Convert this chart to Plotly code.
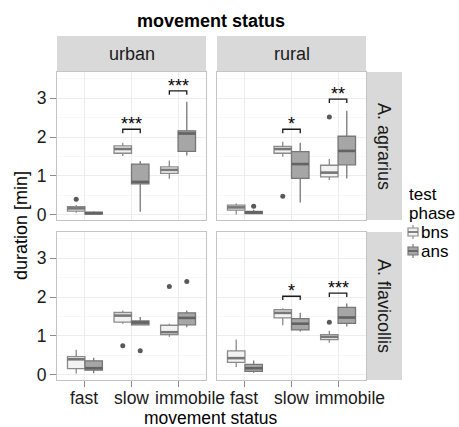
import plotly.graph_objects as go

# ---------------- data ----------------
categories = ["fast", "slow", "immobile"]
locations = ["urban", "rural"]
species = ["A. agrarius", "A. flavicollis"]
phases = ["bns", "ans"]

# per category: [lower whisker, q1, median, q3, upper whisker]
agr_urban_bns = [[0.04, 0.085, 0.155, 0.20, 0.24], [1.51, 1.58, 1.69, 1.77, 1.85], [0.92, 1.06, 1.15, 1.23, 1.39]]
agr_urban_ans = [[0.00, 0.01, 0.03, 0.06, 0.08], [0.07, 0.79, 0.84, 1.30, 1.38], [1.52, 1.63, 2.09, 2.16, 2.91]]
agr_rural_bns = [[0.00, 0.11, 0.18, 0.24, 0.28], [1.49, 1.58, 1.69, 1.76, 1.88], [0.89, 0.97, 1.08, 1.27, 1.43]]
agr_rural_ans = [[0.01, 0.02, 0.05, 0.08, 0.12], [0.31, 0.93, 1.30, 1.62, 1.85], [0.93, 1.28, 1.64, 2.02, 2.68]]
fla_urban_bns = [[0.02, 0.15, 0.39, 0.46, 0.64], [1.31, 1.35, 1.52, 1.60, 1.65], [0.97, 1.03, 1.09, 1.27, 1.31]]
fla_urban_ans = [[0.03, 0.11, 0.16, 0.35, 0.43], [1.28, 1.28, 1.34, 1.38, 1.48], [1.22, 1.28, 1.46, 1.59, 1.65]]
fla_rural_bns = [[0.19, 0.31, 0.42, 0.61, 0.90], [1.27, 1.46, 1.59, 1.67, 1.71], [0.82, 0.90, 0.97, 1.03, 1.13]]
fla_rural_ans = [[0.04, 0.08, 0.16, 0.26, 0.36], [1.11, 1.15, 1.31, 1.44, 1.59], [1.24, 1.32, 1.47, 1.73, 1.83]]

stats = {
    ("A. agrarius", "urban", "bns"): agr_urban_bns,
    ("A. agrarius", "urban", "ans"): agr_urban_ans,
    ("A. agrarius", "rural", "bns"): agr_rural_bns,
    ("A. agrarius", "rural", "ans"): agr_rural_ans,
    ("A. flavicollis", "urban", "bns"): fla_urban_bns,
    ("A. flavicollis", "urban", "ans"): fla_urban_ans,
    ("A. flavicollis", "rural", "bns"): fla_rural_bns,
    ("A. flavicollis", "rural", "ans"): fla_rural_ans,
}

outliers = [
    ("A. agrarius", "urban", "bns", "fast", 0.39),
    ("A. agrarius", "rural", "ans", "fast", 0.21),
    ("A. agrarius", "rural", "bns", "slow", 0.47),
    ("A. agrarius", "rural", "bns", "immobile", 2.52),
    ("A. flavicollis", "urban", "bns", "slow", 0.74),
    ("A. flavicollis", "urban", "ans", "slow", 0.61),
    ("A. flavicollis", "urban", "bns", "immobile", 2.27),
    ("A. flavicollis", "urban", "ans", "immobile", 2.40),
    ("A. flavicollis", "rural", "bns", "immobile", 1.35),
]

significance = [
    ("A. agrarius", "urban", "slow", 2.20, "***"),
    ("A. agrarius", "urban", "immobile", 3.19, "***"),
    ("A. agrarius", "rural", "slow", 2.20, "*"),
    ("A. agrarius", "rural", "immobile", 2.98, "**"),
    ("A. flavicollis", "rural", "slow", 2.02, "*"),
    ("A. flavicollis", "rural", "immobile", 2.10, "***"),
]

y_ticks = [0, 1, 2, 3]

# ---------------- styling ----------------
W, H = 459, 427
FONT = "Liberation Sans, Arial, Helvetica, sans-serif"
fills = {"bns": "#F2F2F2", "ans": "#A6A6A6"}
lines = {"bns": "#8A8A8A", "ans": "#777777"}
medians = {"bns": "#777777", "ans": "#636363"}
DODGE = 0.1875
BOXW = 0.375
tick_label_shift = {"fast": -1, "slow": 0, "immobile": 12}

col_px = [(57, 206), (217, 366)]
row_px = [(72, 220), (232, 380)]


def fx(px):
    return px / W


def fy(py):
    return 1 - py / H


fig = go.Figure()
layout_axes = {}
annotations = []

for r, sp in enumerate(species):
    for c, loc in enumerate(locations):
        n = r * 2 + c + 1
        xa = "x" if n == 1 else f"x{n}"
        ya = "y" if n == 1 else f"y{n}"
        for ph in phases:
            off = -DODGE if ph == "bns" else DODGE
            data = stats[(sp, loc, ph)]
            pos = [i + 1 + off for i in range(len(categories))]
            fig.add_trace(go.Box(
                x=pos,
                lowerfence=[d[0] for d in data],
                q1=[d[1] for d in data],
                median=[d[2] for d in data],
                q3=[d[3] for d in data],
                upperfence=[d[4] for d in data],
                width=BOXW, whiskerwidth=0,
                fillcolor=fills[ph],
                line=dict(color=lines[ph], width=1.3),
                boxpoints=False, showlegend=False, hoverinfo="skip",
                xaxis=xa, yaxis=ya,
            ))
            # thicker median line
            mx, my = [], []
            for p, d in zip(pos, data):
                mx += [p - BOXW / 2, p + BOXW / 2, None]
                my += [d[2], d[2], None]
            fig.add_trace(go.Scatter(
                x=mx, y=my, mode="lines",
                line=dict(color=medians[ph], width=2.6),
                showlegend=False, hoverinfo="skip", xaxis=xa, yaxis=ya,
            ))
            # outliers
            ox, oy = [], []
            for (osp, oloc, oph, ocat, val) in outliers:
                if osp == sp and oloc == loc and oph == ph:
                    ox.append(categories.index(ocat) + 1 + off)
                    oy.append(val)
            if ox:
                fig.add_trace(go.Scatter(
                    x=ox, y=oy, mode="markers",
                    marker=dict(color="#595959", size=5),
                    showlegend=False, hoverinfo="skip", xaxis=xa, yaxis=ya,
                ))
        # significance brackets
        bx, by = [], []
        for (ssp, sloc, scat, lvl, lab) in significance:
            if ssp == sp and sloc == loc:
                ci = categories.index(scat) + 1
                a, b = ci - DODGE, ci + DODGE
                bx += [a, a, b, b, None]
                by += [lvl - 0.1, lvl, lvl, lvl - 0.1, None]
                annotations.append(dict(
                    x=ci, y=lvl, xref=xa, yref=ya, text=lab, showarrow=False,
                    yanchor="middle", yshift=5,
                    font=dict(family=FONT, size=18, color="#000000"),
                ))
        if bx:
            fig.add_trace(go.Scatter(
                x=bx, y=by, mode="lines", line=dict(color="#1a1a1a", width=1.3),
                showlegend=False, hoverinfo="skip", xaxis=xa, yaxis=ya,
            ))

        # x tick labels on the bottom row (as text placed on the axis scale)
        if r == len(species) - 1:
            for i, cat in enumerate(categories):
                annotations.append(dict(
                    x=i + 1, xref=xa, y=fy(398), yref="paper", text=cat,
                    showarrow=False, xanchor="center", yanchor="middle",
                    xshift=tick_label_shift[cat],
                    font=dict(family=FONT, size=17.5, color="#1a1a1a"),
                ))

        x0, x1 = col_px[c]
        y0, y1 = row_px[r]
        xkey = "xaxis" if n == 1 else f"xaxis{n}"
        ykey = "yaxis" if n == 1 else f"yaxis{n}"
        layout_axes[xkey] = dict(
            domain=[fx(x0), fx(x1)], anchor=ya, range=[0.4, 3.6],
            tickvals=[1, 2, 3], ticktext=categories, tickangle=0,
            showticklabels=False, ticks="outside" if r == 1 else "",
            ticklen=6, tickcolor="#8C8C8C", tickwidth=1.2,
            showgrid=True, gridcolor="#EDEDED", gridwidth=1,
            showline=True, mirror=True, linecolor="#C4C4C4", linewidth=1.2,
            zeroline=False, fixedrange=True, automargin=False,
        )
        layout_axes[ykey] = dict(
            domain=[fy(y1), fy(y0)], anchor=xa, range=[-0.145, 3.68],
            tickvals=y_ticks, ticktext=[str(t) for t in y_ticks], tickangle=0,
            showticklabels=(c == 0), ticks="outside" if c == 0 else "",
            ticklen=6, tickcolor="#8C8C8C", tickwidth=1.2,
            tickfont=dict(family=FONT, size=17.5, color="#1a1a1a"),
            showgrid=True, gridcolor="#EDEDED", gridwidth=1,
            minor=dict(dtick=0.5, tick0=0, showgrid=True, gridcolor="#F7F7F7", ticks=""),
            showline=True, mirror=True, linecolor="#C4C4C4", linewidth=1.2,
            zeroline=False, fixedrange=True, automargin=False,
        )

shapes = []
STRIP = "#D9D9D9"
# top strips
for c, loc in enumerate(locations):
    x0, x1 = col_px[c]
    shapes.append(dict(type="rect", xref="paper", yref="paper", x0=fx(x0), x1=fx(x1),
                       y0=fy(72), y1=fy(36), fillcolor=STRIP, line=dict(width=0), layer="below"))
    annotations.append(dict(x=fx((x0 + x1) / 2), y=fy(54), xref="paper", yref="paper",
                            text=loc, showarrow=False, xanchor="center", yanchor="middle",
                            font=dict(family=FONT, size=18, color="#1a1a1a")))
# right strips
for r, sp in enumerate(species):
    y0, y1 = row_px[r]
    shapes.append(dict(type="rect", xref="paper", yref="paper", x0=fx(366), x1=fx(402),
                       y0=fy(y1), y1=fy(y0), fillcolor=STRIP, line=dict(width=0), layer="below"))
    annotations.append(dict(x=fx(384), y=fy((y0 + y1) / 2), xref="paper", yref="paper",
                            text=sp, showarrow=False, textangle=90,
                            xanchor="center", yanchor="middle",
                            font=dict(family=FONT, size=18, color="#1a1a1a")))

# titles
annotations.append(dict(x=fx(211), y=fy(21), xref="paper", yref="paper",
                        text="<b>movement status</b>", showarrow=False,
                        xanchor="center", yanchor="middle",
                        font=dict(family=FONT, size=18, color="#000000")))
annotations.append(dict(x=fx(211), y=fy(418), xref="paper", yref="paper",
                        text="movement status", showarrow=False,
                        xanchor="center", yanchor="middle",
                        font=dict(family=FONT, size=17.5, color="#000000")))
annotations.append(dict(x=fx(21), y=fy(226), xref="paper", yref="paper",
                        text="duration [min]", showarrow=False, textangle=-90,
                        xanchor="center", yanchor="middle",
                        font=dict(family=FONT, size=18, color="#000000")))

# legend (manual)
annotations.append(dict(x=fx(407), y=fy(194), xref="paper", yref="paper",
                        text="test", showarrow=False, xanchor="left", yanchor="middle",
                        font=dict(family=FONT, size=17, color="#000000")))
annotations.append(dict(x=fx(407), y=fy(213), xref="paper", yref="paper",
                        text="phase", showarrow=False, xanchor="left", yanchor="middle",
                        font=dict(family=FONT, size=17, color="#000000")))
for k, ph in enumerate(phases):
    cy = 232 + k * 19
    kx0, kx1 = 408, 418
    kxm = (kx0 + kx1) / 2
    shapes.append(dict(type="line", xref="paper", yref="paper", x0=fx(kxm), x1=fx(kxm),
                       y0=fy(cy + 7), y1=fy(cy - 7), line=dict(color=lines[ph], width=1.2)))
    shapes.append(dict(type="rect", xref="paper", yref="paper", x0=fx(kx0), x1=fx(kx1),
                       y0=fy(cy + 4), y1=fy(cy - 4), fillcolor=fills[ph],
                       line=dict(color=lines[ph], width=1.2)))
    shapes.append(dict(type="line", xref="paper", yref="paper", x0=fx(kx0), x1=fx(kx1),
                       y0=fy(cy), y1=fy(cy), line=dict(color=medians[ph], width=1.8)))
    annotations.append(dict(x=fx(419), y=fy(cy), xref="paper", yref="paper",
                            text=ph, showarrow=False, xanchor="left", yanchor="middle",
                            font=dict(family=FONT, size=17, color="#000000")))

fig.update_layout(
    width=W, height=H, margin=dict(l=0, r=0, t=0, b=0, autoexpand=False),
    paper_bgcolor="white", plot_bgcolor="white",
    boxmode="overlay", showlegend=False,
    shapes=shapes, annotations=annotations,
    font=dict(family=FONT),
    **layout_axes,
)

fig.write_html("out.html")
